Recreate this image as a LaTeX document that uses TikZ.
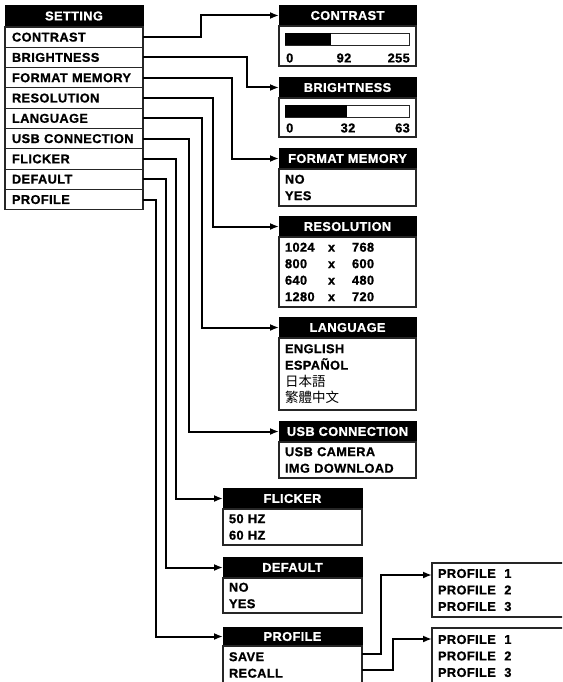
\documentclass[tikz,border=0pt]{standalone}
\usepackage{fontspec}
\setmainfont{Liberation Sans}[LetterSpace=3,BoldFeatures={FakeBold=1}]
\newfontfamily\jpfont{Noto Sans CJK JP}
\newfontfamily\tcfont{Noto Sans CJK TC}
\usetikzlibrary{positioning,arrows.meta}
\newcommand{\res}[2]{\makebox[43pt][l]{#1}\makebox[24pt][l]{x}#2}
\newcommand{\prof}[1]{PROFILE\ \ #1}

\begin{document}
\begin{tikzpicture}[x=1pt,y=-1pt]

\tikzset{menuhead/.style={
  rectangle,
  inner sep=0pt, outer sep=0pt,
  draw=black, fill=black, text=white,
  font=\bfseries\fontsize{12.8}{14}\selectfont,
  minimum width=138pt,
  minimum height = 22pt
  },
  menuitem/.style={
  rectangle,
  inner xsep=7pt, inner ysep=0pt, outer sep=0pt,
  text width=124pt, align=left,
  draw=black!85, line width=1.2pt, fill=white,
  font=\bfseries\fontsize{12.8}{14}\selectfont,
  minimum height = 20.3pt
  },
  subhead/.style={menuhead, minimum width=137pt, minimum height=21pt},
  subbody/.style={
  rectangle,
  inner xsep=6pt, inner ysep=0pt, outer sep=0pt,
  text width=125pt, align=left,
  draw=black!85, line width=1.2pt, fill=white,
  font=\bfseries\fontsize{12.8}{16.5}\selectfont
  },
  numtxt/.style={inner sep=0pt, font=\bfseries\fontsize{12.8}{14}\selectfont},
  bar/.style={draw=black!85, line width=1.2pt, fill=white, inner sep=0pt,
  minimum width=124pt, minimum height=12pt, anchor=north west},
  link/.style={draw, line width=2pt, -{Latex[length=9pt,width=7pt]}}
}

\useasboundingbox (0,0) rectangle (562,682);
\clip (0,0) rectangle (562,682);

% main menu
\node[menuhead, anchor=north west] (mset) at (5,5) {SETTING};
\node[menuitem, below=0pt of mset] (mcon) {CONTRAST};
\node[menuitem, below=0pt of mcon] (mbri) {BRIGHTNESS};
\node[menuitem, below=0pt of mbri] (mfmt) {FORMAT MEMORY};
\node[menuitem, below=0pt of mfmt] (mres) {RESOLUTION};
\node[menuitem, below=0pt of mres] (mlang) {LANGUAGE};
\node[menuitem, below=0pt of mlang] (musb) {USB CONNECTION};
\node[menuitem, below=0pt of musb] (mfli) {FLICKER};
\node[menuitem, below=0pt of mfli] (mdef) {DEFAULT};
\node[menuitem, below=0pt of mdef] (mpro) {PROFILE};

% contrast
\node[subhead, anchor=north west] (hcon) at (279,5) {CONTRAST};
\node[subbody, below=0pt of hcon, minimum height=40pt] (bcon) {};
\node[bar] (cbar) at (285,33) {};
\fill (cbar.north west) rectangle ++(46,12);
\node[numtxt, anchor=west] (cmin) at (286,58) {0};
\node[numtxt] (cval) at (344,58) {92};
\node[numtxt, anchor=east] (cmax) at (410,58) {255};

% brightness
\node[subhead, anchor=north west] (hbri) at (279,77) {BRIGHTNESS};
\node[subbody, below=0pt of hbri, minimum height=39pt] (bbri) {};
\node[bar] (bbar) at (285,105) {};
\fill (bbar.north west) rectangle ++(62,12);
\node[numtxt, anchor=west] (bmin) at (286,128) {0};
\node[numtxt] (bval) at (348,128) {32};
\node[numtxt, anchor=east] (bmax) at (410,128) {63};

% format memory
\node[subhead, anchor=north west] (hfmt) at (279,148) {FORMAT MEMORY};
\node[subbody, below=0pt of hfmt, minimum height=37pt] (bfmt) {NO\\YES};

% resolution
\node[subhead, anchor=north west] (hres) at (279,216) {RESOLUTION};
\node[subbody, below=0pt of hres, minimum height=70pt] (bres)
  {\res{1024}{768}\\\res{800}{600}\\\res{640}{480}\\\res{1280}{720}};

% language
\node[subhead, anchor=north west] (hlang) at (279,317) {LANGUAGE};
\node[subbody, below=0pt of hlang, minimum height=72pt] (blang)
  {ENGLISH\\ESPAÑOL\\{\mdseries\fontsize{13.5}{16.5}\selectfont\jpfont 日本語}\\
   {\mdseries\fontsize{13.5}{16.5}\selectfont\tcfont 繁體中文}};

% usb connection
\node[subhead, anchor=north west] (husb) at (279,421) {USB CONNECTION};
\node[subbody, below=0pt of husb, minimum height=36pt] (busb) {USB CAMERA\\IMG DOWNLOAD};

% flicker, default, profile
\node[subhead, anchor=north west, minimum width=139pt] (hfli) at (223,488) {FLICKER};
\node[subbody, below=0pt of hfli, text width=127pt, minimum height=36pt] (bfli) {50 HZ\\60 HZ};
\node[subhead, anchor=north west, minimum width=139pt] (hdef) at (223,557) {DEFAULT};
\node[subbody, below=0pt of hdef, text width=127pt, minimum height=35pt] (bdef) {NO\\YES};
\node[subhead, anchor=north west, minimum width=139pt, minimum height=19pt] (hpro) at (223,627) {PROFILE};
\node[subbody, below=0pt of hpro, text width=127pt, minimum height=38pt] (bpro) {SAVE\\RECALL};

% profile slots
\node[subbody, anchor=north west, text width=128pt, minimum height=54pt] (psave) at (432,563)
  {\prof{1}\\\prof{2}\\\prof{3}};
\node[subbody, anchor=north west, text width=128pt, minimum height=56pt] (precall) at (432,628)
  {\prof{1}\\\prof{2}\\\prof{3}};

% connectors
\path[link] (mcon.east) -- ++(58,0) |- (hcon.west);
\path[link] (mbri.east) -- ++(104,0) |- (hbri.west);
\path[link] (mfmt.east) -- ++(89,0) |- (hfmt.west);
\path[link] (mres.east) -- ++(70,0) |- (hres.west);
\path[link] (mlang.east) -- ++(59,0) |- (hlang.west);
\path[link] (musb.east) -- ++(46,0) |- (husb.west);
\path[link] (mfli.east) -- ++(33,0) |- (hfli.west);
\path[link] (mdef.east) -- ++(23,0) |- (hdef.west);
\path[link] (mpro.east) -- ++(13,0) |- (hpro.west);
\path[link] ([yshift=-8pt]bpro.north east) -- ++(19,0) |- ([yshift=-12pt]psave.north west);
\path[link] ([yshift=-24pt]bpro.north east) -- ++(31,0) |- ([yshift=-11pt]precall.north west);
\end{tikzpicture}
\end{document}
